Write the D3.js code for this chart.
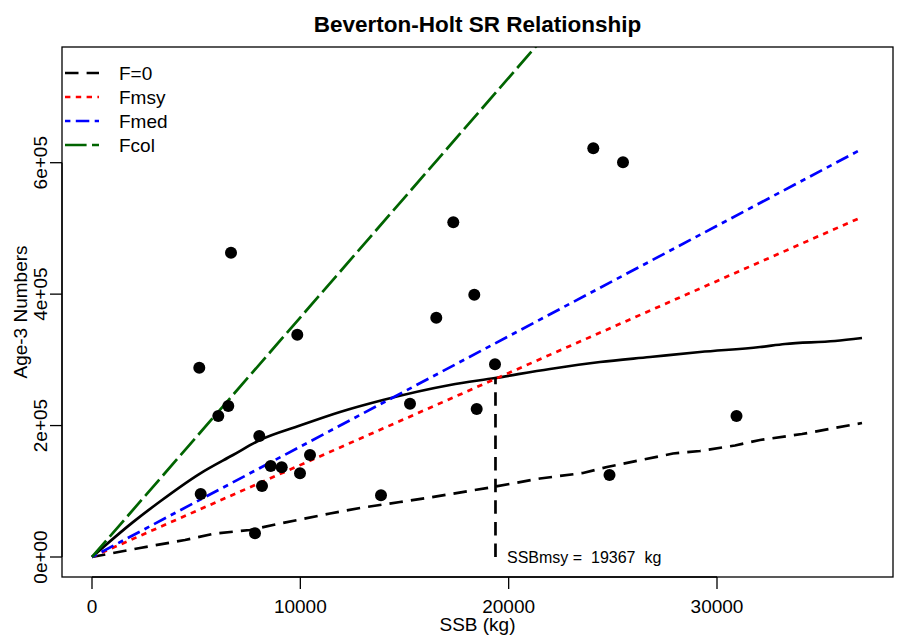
<!DOCTYPE html>
<html>
<head>
<meta charset="utf-8">
<script src="https://cdn.jsdelivr.net/npm/d3@7"></script>
<style>
  body { margin: 0; background: #fff; }
  text { font-family: "Liberation Sans", Arial, sans-serif; fill: #000; }
</style>
</head>
<body>
<div id="chart"></div>
<script>
// observed stock-recruit pairs
const ssb = [6672, 9854, 5150, 6542, 6062, 8030, 5218, 8578, 9106, 10464, 9984, 8160,
  7824, 17342, 18350, 16526, 19344, 15264, 18466, 13872, 24062, 25488, 30936, 24840];
const recruits = [463050, 338270, 288060, 229780, 214560, 184130, 95870, 138470, 136500,
  155210, 127370, 108040, 36060, 509310, 399140, 364140, 293230, 233280, 225210, 93890,
  621920, 600610, 214560, 124780];

// fitted Beverton-Holt curve
const bhSSB = [0, 1968, 3264, 5184, 6768, 8064, 9984, 11904, 13968, 17184, 19344, 21984,
  24384, 26784, 29184, 32064, 33264, 35664, 36960];
const bhR = [0, 53000, 84500, 127000, 155210, 178000, 200000, 220650, 238910, 261730,
  272380, 286080, 296730, 304340, 311950, 319560, 324120, 328690, 333250];

// F=0 curve
const f0SSB = [0, 2304, 4464, 5904, 7584, 9024, 11424, 12864, 14784, 16080, 19248, 21504,
  23568, 24720, 27888, 29184, 30864, 32064, 34080, 36960];
const f0R = [0, 13700, 25870, 35760, 41090, 50980, 66190, 74560, 83690, 89780, 106520,
  119450, 127820, 136950, 157500, 161300, 169670, 178040, 187170, 203910];

// replacement lines
const refSSB = [0, 36960];
const fmsyR = [0, 517400];
const fmedR = [0, 620900];
const fcolR = [0, 1347500];

const ssbMsy = 19367;
const rMsy = 272400;

const xTicks = [0, 10000, 20000, 30000];
const yTicks = [0, 200000, 400000, 600000];
const yTickLabels = ["0e+00", "2e+05", "4e+05", "6e+05"];
const legendLabels = ["F=0", "Fmsy", "Fmed", "Fcol"];

const W = 897, H = 640;
const box = { left: 62, right: 893, top: 47, bottom: 577 };

const svg = d3.select("#chart").append("svg")
  .attr("width", W).attr("height", H);

const x = d3.scaleLinear().domain([-1440, 38448]).range([box.left, box.right]);
const y = d3.scaleLinear().domain([-30434, 776060]).range([box.bottom, box.top]);

svg.append("defs").append("clipPath").attr("id", "plotClip")
  .append("rect")
  .attr("x", box.left).attr("y", box.top)
  .attr("width", box.right - box.left).attr("height", box.bottom - box.top);

const lw = 2.7;
const styles = {
  f0:   { color: "#000000", dash: "13.5 8.1" },
  fmsy: { color: "#ff0000", dash: "5.4 5.4" },
  fmed: { color: "#0000ff", dash: "5.4 5.4 13.5 5.4" },
  fcol: { color: "#006400", dash: "21.6 5.4" }
};

const plot = svg.append("g").attr("clip-path", "url(#plotClip)");
const pairs = (xs, ys) => xs.map((v, i) => [v, ys[i]]);

function drawLine(data, color, dash, curve) {
  const line = d3.line().x(d => x(d[0])).y(d => y(d[1]))
    .curve(curve || d3.curveLinear);
  plot.append("path")
    .datum(data)
    .attr("d", line)
    .attr("fill", "none")
    .attr("stroke", color)
    .attr("stroke-width", lw)
    .attr("stroke-dasharray", dash || null);
}

drawLine(pairs(bhSSB, bhR), "#000", null, d3.curveMonotoneX);
drawLine(pairs(f0SSB, f0R), styles.f0.color, styles.f0.dash);
drawLine(pairs(refSSB, fmsyR), styles.fmsy.color, styles.fmsy.dash);
drawLine(pairs(refSSB, fmedR), styles.fmed.color, styles.fmed.dash);
drawLine(pairs(refSSB, fcolR), styles.fcol.color, styles.fcol.dash);

// SSBmsy marker
drawLine([[ssbMsy, 0], [ssbMsy, rMsy]], "#000", styles.f0.dash);

plot.selectAll("circle.obs")
  .data(pairs(ssb, recruits))
  .join("circle")
    .attr("class", "obs")
    .attr("cx", d => x(d[0]))
    .attr("cy", d => y(d[1]))
    .attr("r", 6)
    .attr("fill", "#000");

svg.append("text")
  .attr("x", 507).attr("y", 563)
  .style("font-size", "16px")
  .text("SSBmsy = \u00a0" + ssbMsy + " \u00a0kg");

// frame
svg.append("rect")
  .attr("x", box.left).attr("y", box.top)
  .attr("width", box.right - box.left).attr("height", box.bottom - box.top)
  .attr("fill", "none").attr("stroke", "#000").attr("stroke-width", 1.3);

// x axis
const xAxis = svg.append("g");
xAxis.append("line")
  .attr("x1", x(xTicks[0])).attr("x2", x(xTicks[xTicks.length - 1]))
  .attr("y1", box.bottom).attr("y2", box.bottom)
  .attr("stroke", "#000").attr("stroke-width", 1.3);
xAxis.selectAll("line.tick")
  .data(xTicks)
  .join("line")
    .attr("class", "tick")
    .attr("x1", d => x(d)).attr("x2", d => x(d))
    .attr("y1", box.bottom).attr("y2", box.bottom + 12)
    .attr("stroke", "#000").attr("stroke-width", 1.3);
xAxis.selectAll("text")
  .data(xTicks)
  .join("text")
    .attr("x", d => x(d)).attr("y", 613)
    .attr("text-anchor", "middle")
    .style("font-size", "19px")
    .text(d => d);

// y axis
const yAxis = svg.append("g");
yAxis.append("line")
  .attr("x1", box.left).attr("x2", box.left)
  .attr("y1", y(yTicks[0])).attr("y2", y(yTicks[yTicks.length - 1]))
  .attr("stroke", "#000").attr("stroke-width", 1.3);
yAxis.selectAll("line.tick")
  .data(yTicks)
  .join("line")
    .attr("class", "tick")
    .attr("x1", box.left - 12).attr("x2", box.left)
    .attr("y1", d => y(d)).attr("y2", d => y(d))
    .attr("stroke", "#000").attr("stroke-width", 1.3);
yAxis.selectAll("text")
  .data(yTicks)
  .join("text")
    .attr("transform", d => `translate(46.5,${y(d)}) rotate(-90)`)
    .attr("text-anchor", "middle")
    .style("font-size", "19px")
    .text((d, i) => yTickLabels[i]);

// titles
svg.append("text")
  .attr("x", (box.left + box.right) / 2).attr("y", 32)
  .attr("text-anchor", "middle")
  .style("font-size", "22.5px")
  .style("font-weight", "bold")
  .text("Beverton-Holt SR Relationship");

svg.append("text")
  .attr("x", (box.left + box.right) / 2).attr("y", 631)
  .attr("text-anchor", "middle")
  .style("font-size", "19px")
  .text("SSB (kg)");

svg.append("text")
  .attr("transform", `translate(26.5,${(box.top + box.bottom) / 2}) rotate(-90)`)
  .attr("text-anchor", "middle")
  .style("font-size", "19px")
  .text("Age-3 Numbers");

// legend
const legendStyles = [styles.f0, styles.fmsy, styles.fmed, styles.fcol];
const legend = svg.append("g");
legendLabels.forEach((lab, i) => {
  const ly = 73 + i * 24;
  legend.append("line")
    .attr("x1", 65).attr("x2", 99)
    .attr("y1", ly).attr("y2", ly)
    .attr("stroke", legendStyles[i].color)
    .attr("stroke-width", lw)
    .attr("stroke-dasharray", legendStyles[i].dash);
  legend.append("text")
    .attr("x", 119).attr("y", ly + 7)
    .style("font-size", "19px")
    .text(lab);
});
</script>
</body>
</html>
